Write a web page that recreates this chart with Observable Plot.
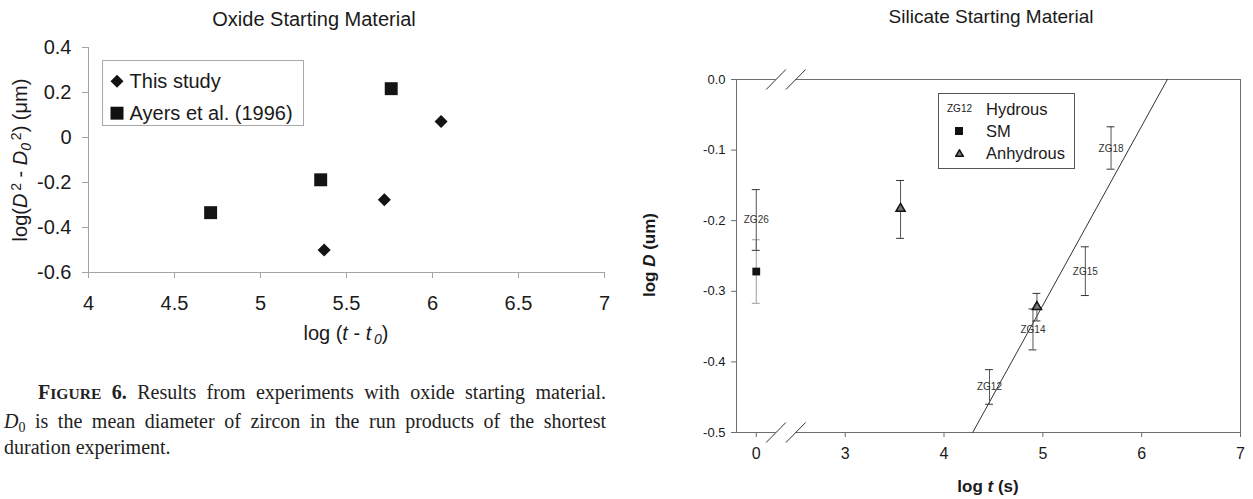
<!DOCTYPE html>
<html>
<head>
<meta charset="utf-8">
<script src="https://cdn.jsdelivr.net/npm/d3@7"></script>
<script src="https://cdn.jsdelivr.net/npm/@observablehq/plot@0.6"></script>
<style>
  html, body { margin: 0; padding: 0; background: #fff; }
  body { width: 1253px; height: 499px; position: relative; overflow: hidden;
         font-family: "Liberation Sans", Arial, sans-serif; color: #1a1a1a; }
  .abs { position: absolute; white-space: nowrap; }
  .center { transform: translate(-50%, -50%); }
  .rot { transform: translate(-50%, -50%) rotate(-90deg); }
  .sup, .sub { font-size: 0.7em; line-height: 0; position: relative; }
  .sup { top: -0.45em; }
  .sub { top: 0.3em; }
  .legend { position: absolute; background: #fff; }
  .lrow { position: absolute; white-space: nowrap; transform: translateY(-50%); line-height: 1; }
</style>
</head>
<body>
<div id="leftChart" class="abs" style="left:0;top:0"></div>
<div id="rightChart" class="abs" style="left:640px;top:0"></div>

<div class="abs center" style="left:314px;top:18.5px;font-size:20px">Oxide Starting Material</div>
<div class="abs center" style="left:991px;top:17px;font-size:19px">Silicate Starting Material</div>

<div class="abs rot" style="left:19.5px;top:159.5px;font-size:20px">log(<i>D</i><span class="sup">&#8201;2</span> - <i>D<span class="sub">0</span></i><span class="sup">&#8201;2</span>) (μm)</div>
<div class="abs center" style="left:346px;top:333px;font-size:20px">log (<i>t</i> - <i>t</i><span class="sub"><i>&#8201;0</i></span>)</div>

<div class="abs rot" style="left:650px;top:255px;font-size:17px;font-weight:bold">log <i>D</i> (um)</div>
<div class="abs center" style="left:988px;top:487px;font-size:17px;font-weight:bold">log <i>t</i> (s)</div>

<div class="legend" style="left:102px;top:60px;width:200px;height:64px;border:1px solid #a8a8a8">
  <div class="lrow" style="left:7px;top:19px;font-size:20px">
    <svg width="14" height="14" style="vertical-align:middle;margin-right:0px"><path d="M7,0.5L13.5,7L7,13.5L0.5,7Z" fill="#111"/></svg>
    <span style="vertical-align:middle">This study</span></div>
  <div class="lrow" style="left:7px;top:51px;font-size:20px">
    <svg width="14" height="14" style="vertical-align:middle;margin-right:0px"><rect x="0.5" y="0.5" width="13" height="13" fill="#111"/></svg>
    <span style="vertical-align:middle">Ayers et al. (1996)</span></div>
</div>

<div class="legend" style="left:938px;top:93px;width:135px;height:74px;border:1px solid #555">
  <div class="lrow" style="left:8px;top:15px;font-size:10px">ZG12</div>
  <div class="lrow" style="left:47px;top:15px;font-size:16.5px">Hydrous</div>
  <div class="lrow" style="left:16px;top:37px"><svg width="8" height="8" style="display:block"><rect x="0" y="0" width="8" height="8" fill="#111"/></svg></div>
  <div class="lrow" style="left:47px;top:37px;font-size:16.5px">SM</div>
  <div class="lrow" style="left:16px;top:59px"><svg width="9" height="8" style="display:block"><path d="M4.5,0.8L8.3,7.3L0.7,7.3Z" fill="#777" stroke="#111" stroke-width="1.5"/></svg></div>
  <div class="lrow" style="left:47px;top:59px;font-size:16.5px">Anhydrous</div>
</div>

<div class="abs" style="left:4px;top:379px;width:602px;font-family:'Liberation Serif','Times New Roman',serif;font-size:20px;line-height:26.7px;white-space:normal;color:#222">
  <div style="text-align:justify;text-align-last:justify;padding-left:34px"><b>F<span style="font-size:0.78em">IGURE</span> 6.</b> Results from experiments with oxide starting material.</div>
  <div style="text-align:justify;text-align-last:justify"><i>D</i><span class="sub">0</span> is the mean diameter of zircon in the run products of the shortest</div>
  <div>duration experiment.</div>
</div>

<script>
// ---------- Left panel: oxide starting material ----------
const thisStudyX = [5.37, 5.72, 6.05];
const thisStudyY = [-0.50, -0.277, 0.071];
const ayersX = [4.71, 5.35, 5.76];
const ayersY = [-0.334, -0.188, 0.217];
const leftXTicks = [4, 4.5, 5, 5.5, 6, 6.5, 7];
const leftYTicks = [-0.6, -0.4, -0.2, 0, 0.2, 0.4];

// ---------- Right panel: silicate starting material ----------
const hydrousLabels = ["ZG26", "ZG12", "ZG14", "ZG15", "ZG18"];
const hydrousLogT   = [0, 4.46, 4.90, 5.43, 5.69];
const hydrousLogD   = [-0.199, -0.435, -0.354, -0.272, -0.098];
const hydrousLo     = [-0.242, -0.460, -0.383, -0.306, -0.127];
const hydrousHi     = [-0.156, -0.411, -0.325, -0.237, -0.067];

const smLogT = [0];
const smLogD = [-0.272];
const smLo   = [-0.317];
const smHi   = [-0.227];

const anhLogT = [3.56, 4.94];
const anhLogD = [-0.183, -0.322];
const anhLo   = [-0.225, -0.342];
const anhHi   = [-0.143, -0.303];

const fitLogT = [4.29, 6.26];
const fitLogD = [-0.5, 0];

const rightXTicks = [0, 3, 4, 5, 6, 7];
const rightYTicks = [0, -0.1, -0.2, -0.3, -0.4, -0.5];

// broken x axis: log t = 0 is drawn at 2.1
const zeroShift = 2.1;
const breakAt = [2.3, 2.5];
const bx = t => (t < 1 ? t + zeroShift : t);

const zip = (xs, ys, extra = {}) => xs.map((x, i) => {
  const o = {x, y: ys[i]};
  for (const k in extra) o[k] = extra[k][i];
  return o;
});

// ---------- build left chart ----------
const leftAxis = "#a4a4a4";
const left = Plot.plot({
  width: 640, height: 350,
  marginLeft: 88, marginRight: 36, marginTop: 47, marginBottom: 78,
  x: {domain: [4, 7]},
  y: {domain: [-0.6, 0.4]},
  style: {fontFamily: "Liberation Sans, Arial, sans-serif", background: "transparent", color: "#1a1a1a"},
  marks: [
    Plot.ruleX([4], {stroke: leftAxis}),
    Plot.ruleY([-0.6], {stroke: leftAxis}),
    Plot.axisY({ticks: leftYTicks, tickSize: 6, tickPadding: 11, fontSize: 20, stroke: leftAxis,
                tickFormat: d => (Math.abs(d) < 1e-9 ? "0" : d.toFixed(1)), label: null}),
    Plot.axisX({ticks: leftXTicks, tickSize: 6, tickPadding: 17, fontSize: 20, stroke: leftAxis,
                tickFormat: d => String(d), label: null}),
    Plot.dot(zip(ayersX, ayersY), {x: "x", y: "y", symbol: "square", r: 7.3, fill: "#141414", stroke: "none"}),
    Plot.dot(zip(thisStudyX, thisStudyY), {x: "x", y: "y", symbol: "diamond2", r: 5.9, fill: "#141414", stroke: "none"})
  ]
});
document.getElementById("leftChart").append(left);

// ---------- build right chart ----------
const frameC = "#6e6e6e";
const hydrous = hydrousLogT.map((t, i) => ({x: bx(t), y: hydrousLogD[i], lo: hydrousLo[i], hi: hydrousHi[i], label: hydrousLabels[i]}));
const sm = smLogT.map((t, i) => ({x: bx(t), y: smLogD[i], lo: smLo[i], hi: smHi[i]}));
const anh = anhLogT.map((t, i) => ({x: bx(t), y: anhLogD[i], lo: anhLo[i], hi: anhHi[i]}));
const fit = zip(fitLogT, fitLogD);
const capHalf = 0.04;
const breaks = [];
for (const b of breakAt) for (const yy of [0, -0.5]) breaks.push({b, yy});
const slashDx = 0.1, slashDy = 0.0142;

const errMarks = (data, color, capColor) => [
  Plot.ruleX(data, {x: "x", y1: "lo", y2: "hi", stroke: color, strokeWidth: 1}),
  Plot.ruleY(data, {y: "lo", x1: d => d.x - capHalf, x2: d => d.x + capHalf, stroke: capColor, strokeWidth: 1}),
  Plot.ruleY(data, {y: "hi", x1: d => d.x - capHalf, x2: d => d.x + capHalf, stroke: capColor, strokeWidth: 1})
];

const right = Plot.plot({
  width: 613, height: 499,
  marginLeft: 96, marginRight: 13, marginTop: 79, marginBottom: 67,
  x: {domain: [1.9, 7]},
  y: {domain: [-0.5, 0]},
  style: {fontFamily: "Liberation Sans, Arial, sans-serif", background: "transparent", color: "#1a1a1a"},
  marks: [
    Plot.frame({stroke: frameC}),
    Plot.axisY({ticks: rightYTicks, tickSize: 5, tickPadding: 6, fontSize: 13, stroke: frameC,
                tickFormat: d => d.toFixed(1), label: null}),
    Plot.axisX({ticks: rightXTicks.map(bx), tickSize: 5, tickPadding: 10, fontSize: 16, stroke: frameC,
                tickFormat: d => (d === zeroShift ? "0" : String(d)), label: null}),
    // axis break gaps and slashes
    Plot.ruleY([0, -0.5], {y: d => d, x1: breakAt[0], x2: breakAt[1], stroke: "#fff", strokeWidth: 4}),
    Plot.link(breaks, {x1: d => d.b - slashDx, x2: d => d.b + slashDx, y1: d => d.yy - slashDy, y2: d => d.yy + slashDy, stroke: "#333", strokeWidth: 1}),
    // fit line
    Plot.line(fit, {x: "x", y: "y", stroke: "#333", strokeWidth: 1}),
    // error bars
    ...errMarks(sm, "#9a9a9a", "#9a9a9a"),
    ...errMarks(hydrous, "#555", "#333"),
    ...errMarks(anh, "#555", "#333"),
    // hydrous labels
    Plot.text(hydrous, {x: "x", y: "y", text: "label", fontSize: 10, fill: "#333"}),
    // SM and anhydrous markers
    Plot.dot(sm, {x: "x", y: "y", symbol: "square", r: 4.4, fill: "#141414", stroke: "none"}),
    Plot.dot(anh, {x: "x", y: "y", symbol: "triangle", r: 3.4, fill: "#777", stroke: "#111", strokeWidth: 1.5})
  ]
});
document.getElementById("rightChart").append(right);
</script>
</body>
</html>
